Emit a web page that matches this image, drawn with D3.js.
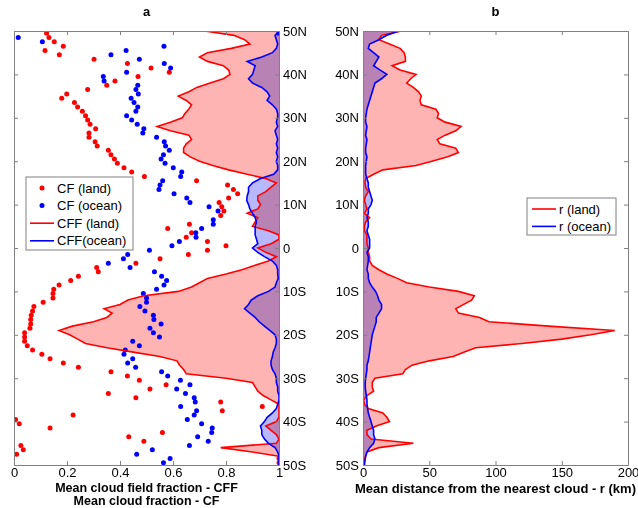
<!DOCTYPE html>
<html>
<head>
<meta charset="utf-8">
<script src="https://cdn.jsdelivr.net/npm/d3@7"></script>
<style>
  body { margin: 0; background: #fff; }
  text { font-family: Arial, 'Liberation Sans', sans-serif; }
  .axis path, .axis line { stroke: #808080; }
  .axis text { font-size: 13px; fill: #000; }
  .title { font-size: 13px; font-weight: bold; }
  .xlabel { font-size: 12.5px; font-weight: bold; }
  .legend text { font-size: 13px; }
  .fill { mix-blend-mode: multiply; }
</style>
</head>
<body>
<svg id="fig" width="638" height="508"></svg>
<script>
// latitude grids (50N .. 50S)
const lineLats = d3.range(50, -51, -1);
const dotLats = d3.range(49.5, -50, -1);

// panel a: mean cloud field fraction (lines)
const cffLand = [
  0.72, 0.83, 0.87, 0.89, 0.82, 0.73, 0.70, 0.73, 0.79, 0.81,
  0.815, 0.79, 0.74, 0.69, 0.66, 0.62, 0.65, 0.67, 0.66, 0.645,
  0.635, 0.59, 0.54, 0.59, 0.66, 0.67, 0.65, 0.64, 0.64, 0.665,
  0.70, 0.75, 0.81, 0.88, 0.95, 0.99, 0.97, 0.95, 0.92, 0.92,
  0.93, 0.92, 0.88, 0.92, 0.91, 0.90, 0.96, 1.0, 1.0, 0.97,
  0.92, 0.95, 0.99, 0.96, 0.91, 0.86, 0.80, 0.73, 0.70, 0.67,
  0.62, 0.49, 0.43, 0.40, 0.34, 0.37, 0.35, 0.30, 0.22, 0.17,
  0.21, 0.24, 0.27, 0.35, 0.45, 0.55, 0.615, 0.625, 0.64, 0.65,
  0.80, 0.90, 0.91, 0.92, 0.94, 0.97, 1.0, 1.0, 1.0, 1.0,
  0.99, 0.95, 0.97, 0.99, 1.0, 0.99, 0.78, 0.90, 1.0, 1.0,
  1.0
];
const cffOcean = [
  1.0, 0.985, 0.99, 0.995, 0.99, 0.975, 0.935, 0.88, 0.91, 0.905,
  0.90, 0.885, 0.90, 0.935, 0.955, 0.965, 0.955, 0.975, 0.99, 0.995,
  0.995, 0.99, 0.995, 0.985, 0.99, 0.995, 0.99, 0.995, 0.99, 0.995,
  0.99, 0.995, 0.995, 0.98, 0.93, 0.90, 0.885, 0.885, 0.88, 0.878,
  0.885, 0.89, 0.90, 0.91, 0.915, 0.91, 0.91, 0.91, 0.915, 0.92,
  0.90, 0.92, 0.945, 0.975, 0.99, 0.995, 0.995, 0.997, 0.99, 0.985,
  0.96, 0.92, 0.895, 0.885, 0.87, 0.89, 0.91, 0.925, 0.945, 0.965,
  0.985, 0.99, 0.99, 0.985, 0.978, 0.975, 0.97, 0.97, 0.975, 0.985,
  0.99, 0.99, 0.995, 0.995, 1.0, 1.0, 0.995, 0.99, 0.975, 0.955,
  0.945, 0.93, 0.935, 0.935, 0.945, 0.96, 0.985, 0.995, 1.0, 1.0,
  1.0
];

// panel a: mean cloud fraction (dots), null = no value
const cfLand = [
  0.123, 0.132, 0.152, 0.186, 0.117, 0.171, 0.302, 0.428, 0.517, 0.586,
  0.468, 0.381, 0.35, 0.278, 0.199, 0.18, 0.228, 0.24, 0.258, 0.27,
  0.278, 0.287, 0.308, 0.283, 0.283, 0.306, 0.314, 0.356, 0.366, 0.379,
  0.39, 0.415, 0.444, 0.492, 0.689, 0.806, 0.828, 0.844, 0.81, 0.774,
  0.784, 0.792, 0.78, null, 0.662, 0.58, 0.67, 0.65, 0.73, 0.80,
  0.73, 0.658, 0.551, 0.46, 0.312, 0.318, 0.243, 0.214, 0.17, 0.15,
  0.147, 0.147, 0.11, 0.075, 0.07, 0.065, 0.063, 0.063, 0.06, 0.04,
  0.04, 0.04, 0.05, 0.07, 0.105, 0.136, 0.186, 0.243, 0.366, 0.428,
  0.473, 0.574, 0.513, 0.356, 0.46, 0.78, 0.937, 0.786, 0.223, 0.006,
  0.02, 0.136, 0.56, 0.433, 0.49, 0.026, 0.035, 0.01, 1.0, 1.0
];
const cfOcean = [
  1.0, 0.016, 0.107, 0.566, 0.423, 0.366, 0.473, 0.567, 0.591, 0.425,
  0.337, 0.34, 0.467, 0.46, 0.469, 0.442, 0.453, 0.467, 0.46, 0.425,
  0.444, 0.465, 0.49, 0.486, 0.538, 0.567, 0.572, 0.586, 0.564, 0.555,
  0.57, 0.601, 0.633, 0.629, 0.561, 0.551, 0.547, 0.604, 0.652, 0.664,
  0.736, 0.77, null, 0.752, 0.752, 0.708, 0.686, 0.687, 0.624, 0.596,
  0.511, 0.429, 0.413, 0.356, 0.438, 0.53, 0.557, 0.576, 0.566, 0.538,
  0.488, 0.50, 0.50, 0.475, 0.494, 0.526, 0.528, 0.555, 0.513, 0.526,
  0.549, 0.448, 0.473, 0.42, 0.415, 0.448, 0.429, 0.459, 0.557, 0.58,
  0.628, 0.664, 0.614, 0.647, 0.68, 0.684, 0.629, 0.689, 0.68, 0.654,
  0.708, 0.748, 0.746, 0.693, 0.733, 0.662, 0.522, 0.463, 0.589, 0.564
];

// panel b: mean distance from the nearest cloud (km)
const rLand = [
  29, 14, 12, 20, 28, 31, 32, 32, 22, 28,
  40, 36, 33, 38, 42, 44, 43, 44, 55, 57,
  56, 62, 74, 70, 62, 56, 58, 70, 72, 64,
  52, 40, 15, 8, 2, 1.5, 2, 4, 2, 1,
  2, 3, 1, 5, 2, 1, 1, 3, 3, 3,
  4, 4, 5, 5, 7, 12, 18, 26, 33, 50,
  72, 84, 82, 76, 70, 72, 88, 95, 140, 190,
  172, 150, 120, 85, 76, 68, 50, 37, 32, 30,
  9, 7, 7, 8, 3, 0.5, 1, 4, 15, 18,
  20, 10, 3, 3, 6, 38, 12, 3, 2, 1,
  1
];
const rOcean = [
  27, 18, 12, 5, 4, 8, 12, 10, 8, 13,
  18, 14, 9, 8, 7, 6, 5, 4, 3, 2.5,
  2, 2, 3, 2.5, 2, 3, 2.5, 2, 2, 3,
  2.5, 2, 2, 2, 3, 4, 4, 5, 6, 7,
  6, 4, 4, 3, 4, 4, 3, 4, 5, 5,
  5, 3, 4, 4, 3.5, 3, 4, 4, 5, 7,
  9.5, 11, 12, 14, 14, 12, 10, 10, 9, 8,
  7, 6.5, 6, 5.5, 5, 4.5, 4, 3, 3, 2.5,
  2, 1.7, 1.7, 2, 2.5, 3, 3, 3.5, 4, 5,
  6, 7, 8, 8, 9, 8, 5, 3, 2, 1.5,
  1
];

const latTicks = d3.range(50, -51, -10);
const cffTicks = [0, 0.2, 0.4, 0.6, 0.8, 1];
const rTicks = [0, 50, 100, 150, 200];

const RED = '#ff0000';
const BLUE = '#0000ff';
const PINK = '#ffb4b4';
const LILAC = '#b8b8ff';

const svg = d3.select('#fig');

const yTop = 31;
const yBottom = 465;
const y = d3.scaleLinear().domain([-50, 50]).range([yBottom, yTop]);
const xA = d3.scaleLinear().domain([0, 1]).range([14, 279]);
const xB = d3.scaleLinear().domain([0, 200]).range([363, 628]);

const latFmt = (d) => d > 0 ? `${d}N` : d < 0 ? `${-d}S` : '0';

const zip = (vals, lats) => vals.map((v, i) => ({ lat: lats[i], v: v }));

// clip paths
const defs = svg.append('defs');
defs.append('clipPath').attr('id', 'clipA')
  .append('rect').attr('x', xA(0)).attr('y', yTop)
  .attr('width', xA(1) - xA(0)).attr('height', yBottom - yTop);
defs.append('clipPath').attr('id', 'clipB')
  .append('rect').attr('x', xB(0)).attr('y', yTop)
  .attr('width', xB(200) - xB(0)).attr('height', yBottom - yTop);

// ---------- panel a ----------
const gA = svg.append('g').attr('clip-path', 'url(#clipA)');
const fillA = gA.append('g').style('isolation', 'isolate');

const areaA = d3.area()
  .y((d) => y(d.lat))
  .x0(xA(1))
  .x1((d) => xA(d.v));
const lineA = d3.line()
  .x((d) => xA(d.v))
  .y((d) => y(d.lat));

fillA.append('path')
  .datum(zip(cffLand, lineLats))
  .attr('class', 'fill')
  .attr('d', areaA)
  .attr('fill', PINK);
fillA.append('path')
  .datum(zip(cffOcean, lineLats))
  .attr('class', 'fill')
  .attr('d', areaA)
  .attr('fill', LILAC);

gA.selectAll('.dotLand')
  .data(zip(cfLand, dotLats).filter((d) => d.v !== null))
  .enter().append('circle')
  .attr('cx', (d) => xA(d.v))
  .attr('cy', (d) => y(d.lat))
  .attr('r', 2.5)
  .attr('fill', RED);
gA.selectAll('.dotOcean')
  .data(zip(cfOcean, dotLats).filter((d) => d.v !== null))
  .enter().append('circle')
  .attr('cx', (d) => xA(d.v))
  .attr('cy', (d) => y(d.lat))
  .attr('r', 2.5)
  .attr('fill', BLUE);

gA.append('path')
  .datum(zip(cffLand, lineLats))
  .attr('d', lineA)
  .attr('fill', 'none')
  .attr('stroke', RED)
  .attr('stroke-width', 1.6);
gA.append('path')
  .datum(zip(cffOcean, lineLats))
  .attr('d', lineA)
  .attr('fill', 'none')
  .attr('stroke', BLUE)
  .attr('stroke-width', 1.6);

// axes a
svg.append('g').attr('class', 'axis')
  .attr('transform', `translate(0, ${yBottom})`)
  .call(d3.axisBottom(xA).tickValues(cffTicks).tickFormat(d3.format('')).tickSize(-4).tickSizeOuter(0).tickPadding(3));
svg.append('g').attr('class', 'axis')
  .attr('transform', `translate(0, ${yTop})`)
  .call(d3.axisTop(xA).tickValues(cffTicks).tickFormat('').tickSize(-4).tickSizeOuter(0));
svg.append('g').attr('class', 'axis')
  .attr('transform', `translate(${xA(1)}, 0)`)
  .call(d3.axisRight(y).tickValues(latTicks).tickFormat(latFmt).tickSize(-4).tickSizeOuter(0).tickPadding(4));
svg.append('g').attr('class', 'axis')
  .attr('transform', `translate(${xA(0)}, 0)`)
  .call(d3.axisLeft(y).tickValues(latTicks).tickFormat('').tickSize(-4).tickSizeOuter(0));

// ---------- panel b ----------
const gB = svg.append('g').attr('clip-path', 'url(#clipB)');
const fillB = gB.append('g').style('isolation', 'isolate');

const areaB = d3.area()
  .y((d) => y(d.lat))
  .x0(xB(0))
  .x1((d) => xB(d.v));
const lineB = d3.line()
  .x((d) => xB(d.v))
  .y((d) => y(d.lat));

fillB.append('path')
  .datum(zip(rLand, lineLats))
  .attr('class', 'fill')
  .attr('d', areaB)
  .attr('fill', PINK);
fillB.append('path')
  .datum(zip(rOcean, lineLats))
  .attr('class', 'fill')
  .attr('d', areaB)
  .attr('fill', LILAC);
gB.append('path')
  .datum(zip(rLand, lineLats))
  .attr('d', lineB)
  .attr('fill', 'none')
  .attr('stroke', RED)
  .attr('stroke-width', 1.6);
gB.append('path')
  .datum(zip(rOcean, lineLats))
  .attr('d', lineB)
  .attr('fill', 'none')
  .attr('stroke', BLUE)
  .attr('stroke-width', 1.6);

// axes b
svg.append('g').attr('class', 'axis')
  .attr('transform', `translate(0, ${yBottom})`)
  .call(d3.axisBottom(xB).tickValues(rTicks).tickSize(-4).tickSizeOuter(0).tickPadding(3));
svg.append('g').attr('class', 'axis')
  .attr('transform', `translate(0, ${yTop})`)
  .call(d3.axisTop(xB).tickValues(rTicks).tickFormat('').tickSize(-4).tickSizeOuter(0));
svg.append('g').attr('class', 'axis')
  .attr('transform', `translate(${xB(0)}, 0)`)
  .call(d3.axisLeft(y).tickValues(latTicks).tickFormat(latFmt).tickSize(-4).tickSizeOuter(0).tickPadding(4));
svg.append('g').attr('class', 'axis')
  .attr('transform', `translate(${xB(200)}, 0)`)
  .call(d3.axisRight(y).tickValues(latTicks).tickFormat('').tickSize(-4).tickSizeOuter(0));

// titles
svg.append('text').attr('class', 'title')
  .attr('x', (xA(0) + xA(1)) / 2).attr('y', 16)
  .attr('text-anchor', 'middle').text('a');
svg.append('text').attr('class', 'title')
  .attr('x', (xB(0) + xB(200)) / 2).attr('y', 16)
  .attr('text-anchor', 'middle').text('b');

svg.append('text').attr('class', 'xlabel')
  .attr('x', (xA(0) + xA(1)) / 2).attr('y', 491.5)
  .attr('text-anchor', 'middle').text('Mean cloud field fraction - CFF');
svg.append('text').attr('class', 'xlabel')
  .attr('x', (xA(0) + xA(1)) / 2).attr('y', 505.3)
  .attr('text-anchor', 'middle').text('Mean cloud fraction - CF');
svg.append('text').attr('class', 'title')
  .attr('x', (xB(0) + xB(200)) / 2).attr('y', 493)
  .attr('text-anchor', 'middle').text('Mean distance from the nearest cloud - r (km)');

// legend a
const legA = svg.append('g').attr('class', 'legend').attr('transform', 'translate(26, 177)');
legA.append('rect').attr('width', 107).attr('height', 73)
  .attr('fill', '#fff').attr('stroke', '#808080');
const legAItems = [
  { label: 'CF (land)', color: RED, kind: 'dot' },
  { label: 'CF (ocean)', color: BLUE, kind: 'dot' },
  { label: 'CFF (land)', color: RED, kind: 'line' },
  { label: 'CFF(ocean)', color: BLUE, kind: 'line' }
];
legAItems.forEach((it, i) => {
  const cy = 11 + i * 17.6;
  if (it.kind === 'dot') {
    legA.append('circle').attr('cx', 16).attr('cy', cy).attr('r', 2.5).attr('fill', it.color);
  } else {
    legA.append('line').attr('x1', 4).attr('x2', 28).attr('y1', cy).attr('y2', cy)
      .attr('stroke', it.color).attr('stroke-width', 1.6);
  }
  legA.append('text').attr('x', 31).attr('y', cy).attr('dy', '0.35em').text(it.label);
});

// legend b
const legB = svg.append('g').attr('class', 'legend').attr('transform', 'translate(527, 198)');
legB.append('rect').attr('width', 89).attr('height', 37)
  .attr('fill', '#fff').attr('stroke', '#808080');
[{ label: 'r (land)', color: RED }, { label: 'r (ocean)', color: BLUE }].forEach((it, i) => {
  const cy = 11 + i * 17.4;
  legB.append('line').attr('x1', 5).attr('x2', 29).attr('y1', cy).attr('y2', cy)
    .attr('stroke', it.color).attr('stroke-width', 1.6);
  legB.append('text').attr('x', 32).attr('y', cy).attr('dy', '0.35em').text(it.label);
});
</script>
</body>
</html>
